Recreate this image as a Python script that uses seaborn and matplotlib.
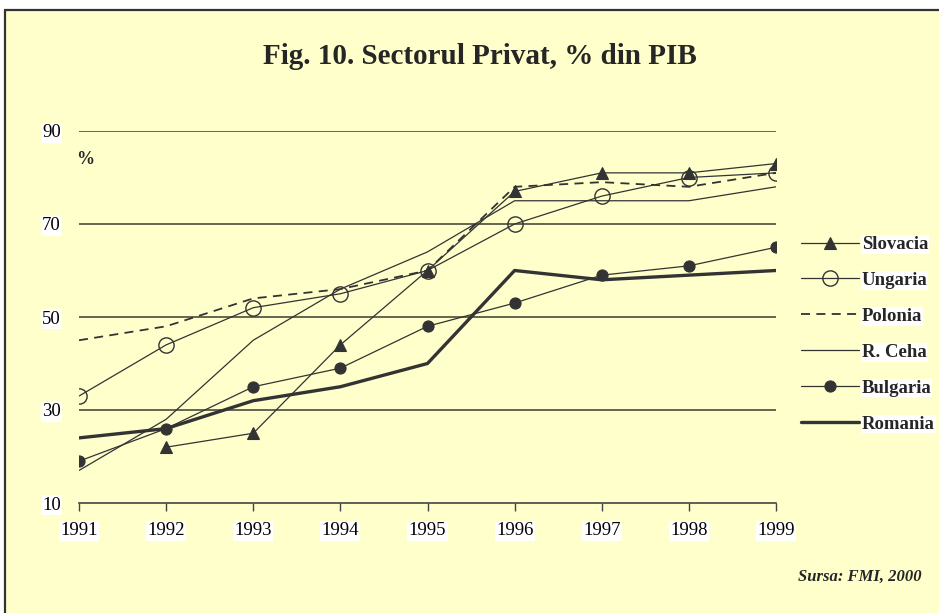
import numpy as np
import pandas as pd
import matplotlib
matplotlib.use("Agg")
import matplotlib.pyplot as plt
import seaborn as sns
from matplotlib.lines import Line2D
from matplotlib.patches import Rectangle

sns.set_theme(style="white")
plt.rcParams['font.family'] = ['Liberation Serif', 'DejaVu Serif']

years = [1991, 1992, 1993, 1994, 1995, 1996, 1997, 1998, 1999]
slovacia = [np.nan, 22, 25, 44, 60, 77, 81, 81, 83]
ungaria = [33, 44, 52, 55, 60, 70, 76, 80, 81]
polonia = [45, 48, 54, 56, 60, 78, 79, 78, 81]
r_ceha = [17, 28, 45, 56, 64, 75, 75, 75, 78]
bulgaria = [19, 26, 35, 39, 48, 53, 59, 61, 65]
romania = [24, 26, 32, 35, 40, 60, 58, 59, 60]
series_names = ["Slovacia", "Ungaria", "Polonia", "R. Ceha", "Bulgaria", "Romania"]
y_ticks = [10, 30, 50, 70, 90]

BG = "#FFFFCC"
LC = "#333333"

fig = plt.figure(figsize=(9.39, 6.13), dpi=100)
fig.patch.set_facecolor("white")
# yellow panel with top/left border
fig.patches.append(Rectangle((6/939, 0), 1, 1 - 10/613, transform=fig.transFigure,
                             facecolor=BG, edgecolor="none", zorder=-10))
fig.add_artist(Line2D([5/939, 1], [1 - 10/613, 1 - 10/613], transform=fig.transFigure,
                      color="#333333", lw=1.6))
fig.add_artist(Line2D([5/939, 5/939], [0, 1 - 10/613], transform=fig.transFigure,
                      color="#333333", lw=1.6))

ax = fig.add_axes([79/939, 1 - 503/613, (776 - 79)/939, (503 - 131)/613])
ax.set_facecolor("none")

styles = {
    "Slovacia": dict(marker="^", markersize=8, lw=0.9, ls="-", mfc=LC),
    "Ungaria": dict(marker="o", markersize=11, lw=0.9, ls="-", mfc="none", mew=1.0),
    "Polonia": dict(marker=None, lw=1.3, ls=(0, (5, 3.5))),
    "R. Ceha": dict(marker=None, lw=0.9, ls="-"),
    "Bulgaria": dict(marker="o", markersize=8, lw=0.9, ls="-", mfc=LC),
    "Romania": dict(marker=None, lw=2.4, ls="-"),
}
data = {"Slovacia": slovacia, "Ungaria": ungaria, "Polonia": polonia,
        "R. Ceha": r_ceha, "Bulgaria": bulgaria, "Romania": romania}

for name in series_names:
    df = pd.DataFrame({"year": years, "val": data[name]}).dropna()
    st = styles[name]
    kw = dict(color=LC, linewidth=st["lw"], linestyle=st["ls"])
    if st["marker"]:
        kw.update(marker=st["marker"], markersize=st["markersize"],
                  markerfacecolor=st["mfc"], markeredgecolor=LC,
                  markeredgewidth=st.get("mew", 0.8))
    sns.lineplot(data=df, x="year", y="val", ax=ax, label=name, **kw)

ax.set_xlim(1991, 1999)
ax.set_ylim(10, 90)
ax.set_xticks(years)
ax.set_yticks(y_ticks)
ax.set_xlabel("")
ax.set_ylabel("")
for s in ["top", "right", "left"]:
    ax.spines[s].set_visible(False)
ax.spines["bottom"].set_color("#444444")
ax.spines["bottom"].set_linewidth(1.2)
for yv in y_ticks[1:]:
    ax.axhline(yv, color="#3a3a30", lw=1.1, zorder=0)
ax.tick_params(axis="x", direction="out", length=6, width=1, color="#444444",
               labelsize=13.5, pad=8, bottom=True)
ax.tick_params(axis="y", length=0, labelsize=13.5, pad=13, left=False)
for lab in ax.get_xticklabels() + ax.get_yticklabels():
    lab.set_bbox(dict(facecolor="white", edgecolor="none", pad=1))
    lab.set_color("black")

leg = ax.legend(loc="upper left", bbox_to_anchor=(801/939, 1 - 236/613),
                bbox_transform=fig.transFigure, frameon=False,
                prop=dict(family="Liberation Serif", weight="bold", size=13.5),
                handlelength=3.1, handletextpad=0.15, labelspacing=1.0,
                borderaxespad=0, borderpad=0)
for t in leg.get_texts():
    t.set_bbox(dict(facecolor="white", edgecolor="none", pad=0.5))

fig.text(480/939, 1 - 56/613, "Fig. 10. Sectorul Privat, % din PIB", ha="center", va="center",
         fontsize=21, fontweight="bold", family="Liberation Serif")
fig.text(85/939, 1 - 160/613, "%", ha="center", va="center", fontsize=13,
         fontweight="bold", family="Liberation Serif")
fig.text(922/939, 1 - 577/613, "Sursa: FMI, 2000", ha="right", va="center", fontsize=12,
         fontweight="bold", fontstyle="italic", family="Liberation Serif")

fig.savefig("out.png", dpi=100)
